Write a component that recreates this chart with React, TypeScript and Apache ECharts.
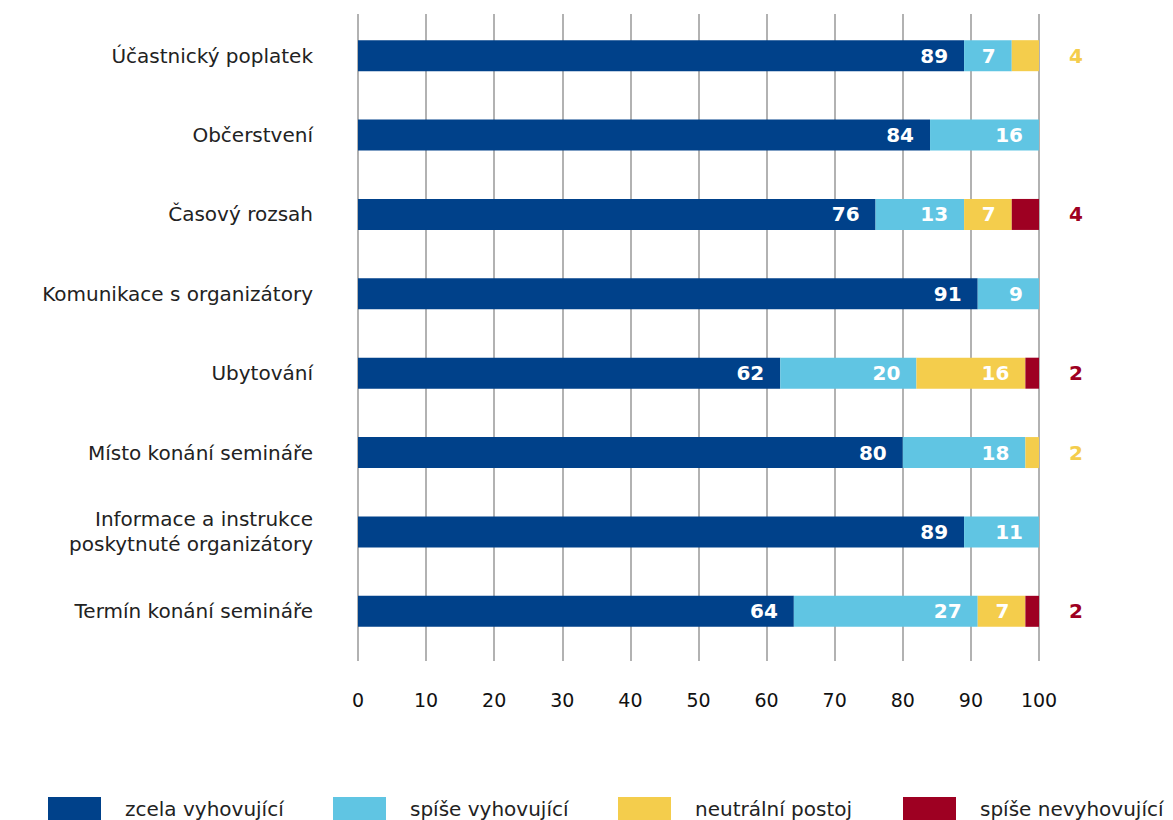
import React, { useEffect, useRef } from "react";
import * as echarts from "echarts";

const categories = [
  "Účastnický poplatek",
  "Občerstvení",
  "Časový rozsah",
  "Komunikace s organizátory",
  "Ubytování",
  "Místo konání semináře",
  "Informace a instrukce\nposkytnuté organizátory",
  "Termín konání semináře",
];
const seriesNames = ["zcela vyhovující", "spíše vyhovující", "neutrální postoj", "spíše nevyhovující"];
const zcela = [89, 84, 76, 91, 62, 80, 89, 64];
const spise = [7, 16, 13, 9, 20, 18, 11, 27];
const neutral = [4, 0, 7, 0, 16, 2, 0, 7];
const nevyhov = [0, 0, 4, 0, 2, 0, 0, 2];
const xTicks = [0, 10, 20, 30, 40, 50, 60, 70, 80, 90, 100];

const colors = ["#00418A", "#60C5E3", "#F4CD4C", "#9E0022"];
const FONT = "DejaVu Sans";

export default function App() {
  const ref = useRef<HTMLDivElement>(null);
  useEffect(() => {
    if (!ref.current) return;
    const chart = echarts.init(ref.current, undefined, { renderer: "svg" });
    const all = [zcela, spise, neutral, nevyhov];
    const series: any[] = all.map((vals, si) => ({
      name: seriesNames[si],
      type: "bar",
      stack: "total",
      xAxisIndex: 0,
      yAxisIndex: 0,
      barWidth: 31,
      itemStyle: { color: colors[si] },
      label: {
        show: true,
        position: "insideRight",
        distance: 16,
        color: "#fff",
        fontFamily: FONT,
        fontWeight: "bold",
        fontSize: 20,
      },
      data: vals.map((v) => {
        if (v === 0) return { value: 0, label: { show: false } };
        if (v <= 4)
          return {
            value: v,
            label: { show: true, position: "right", distance: 30, color: colors[si] },
          };
        return { value: v };
      }),
    }));

    const legends = seriesNames.map((n, i) => ({
      top: 792,
      left: 43 + i * 285,
      itemWidth: 53,
      itemHeight: 24,
      itemGap: 0,
      icon: "rect",
      textStyle: { fontFamily: FONT, fontSize: 20, color: "#222", padding: [0, 0, 0, 19] },
      data: [n],
    }));

    chart.setOption({
      animation: false,
      grid: [
        { left: 358, right: 134, top: 16, height: 635, containLabel: false },
        { left: 358, right: 134, top: 14, height: 647, containLabel: false },
      ],
      legend: legends,
      xAxis: [
        {
          gridIndex: 0,
          type: "value",
          min: 0,
          max: 100,
          interval: 10,
          axisLabel: { show: false },
          axisLine: { show: false },
          axisTick: { show: false },
          splitLine: { show: false },
        },
        {
          gridIndex: 1,
          type: "value",
          min: xTicks[0],
          max: xTicks[xTicks.length - 1],
          interval: 10,
          axisLabel: {
            show: true,
            margin: 29,
            fontFamily: FONT,
            fontSize: 19,
            color: "#111",
          },
          axisLine: { show: false },
          axisTick: { show: false },
          splitLine: { show: true, lineStyle: { color: "#999", width: 1.5 } },
        },
      ],
      yAxis: [
        {
          gridIndex: 0,
          type: "category",
          inverse: true,
          data: categories,
          axisLine: { show: false },
          axisTick: { show: false },
          axisLabel: {
            margin: 45,
            fontFamily: FONT,
            fontSize: 20,
            color: "#222",
            lineHeight: 25,
            align: "right",
          },
        },
        {
          gridIndex: 1,
          type: "value",
          show: false,
        },
      ],
      series,
    });
    return () => chart.dispose();
  }, []);
  return <div ref={ref} style={{ width: 1173, height: 820, marginLeft: -8, marginTop: -8 }} />;
}
